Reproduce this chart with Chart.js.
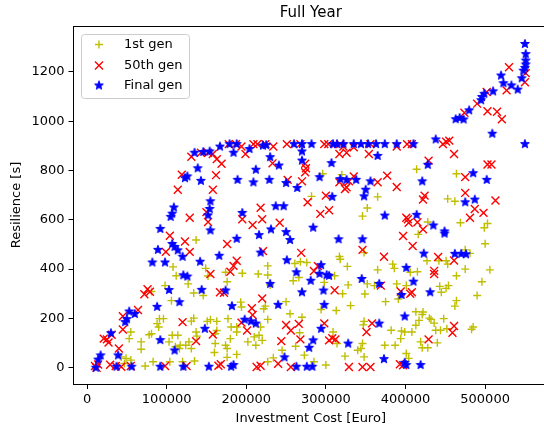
<!DOCTYPE html>
<html>
<head>
<meta charset="utf-8">
<script src="https://cdn.jsdelivr.net/npm/chart.js@4/dist/chart.umd.min.js"></script>
<style>
  html, body { margin: 0; padding: 0; background: #fff; overflow: hidden; }
  #wrap { width: 544px; height: 433px; overflow: hidden; }
</style>
</head>
<body>
<div id="wrap"><canvas id="myChart" width="555" height="433"></canvas></div>
<script>
// points are [investment cost in thousand euro, resilience in s]
const firstGenPoints = [
  [73,7],[83,24],[104,24],[120,24],[135,27],[176,42],[188,54],[227,24],[234,40],[245,71],
  [262,87],[273,51],[285,24],[300,11],[324,47],[340,71],[344,78],[348,44],[374,91],[387,91],
  [401,58],[404,38],[419,105],[421,81],[428,81],[440,101],[422,226],[417,192],[430,201],[436,181],
  [438,152],[444,152],[448,199],[452,158],[399,145],[394,118],[382,152],[408,145],[413,172],[443,330],
  [451,322],[454,333],[445,306],[451,434],[442,434],[453,420],[427,434],[415,389],[406,387],[401,333],
  [391,279],[386,403],[384,420],[389,340],[375,268],[365,397],[361,333],[365,693],[352,340],[349,299],
  [352,648],[346,615],[348,467],[348,188],[347,174],[346,98],[331,252],[328,336],[327,411],[318,440],
  [317,451],[313,232],[311,373],[296,787],[282,695],[320,783],[276,427],[268,430],[261,423],[266,366],
  [259,353],[250,268],[255,219],[267,142],[270,205],[294,236],[298,346],[309,145],[314,98],[227,413],
  [227,376],[215,380],[230,336],[222,239],[227,196],[218,165],[216,132],[210,125],[212,91],[202,105],
  [220,111],[195,383],[193,266],[194,246],[188,165],[188,145],[180,118],[181,165],[177,199],[174,387],
  [176,349],[174,91],[176,78],[163,188],[151,188],[155,195],[161,138],[161,98],[160,62],[149,403],
  [146,293],[137,518],[134,303],[134,201],[137,145],[131,78],[128,105],[124,91],[127,340],[117,91],
  [114,132],[116,78],[107,132],[111,85],[103,105],[106,272],[108,409],[112,373],[98,333],[91,199],
  [96,199],[88,179],[81,138],[78,134],[68,105],[68,75],[55,145],[53,118],[81,309],[43,44],
  [49,38],[55,31],[47,17],[414,805],[416,541],[428,591],[469,588],[462,675],[453,685],[464,787],
  [475,478],[481,464],[475,400],[490,293],[485,165],[483,156],[462,250],[464,272],[464,373],[503,585],
  [499,568],[506,397],[500,503],[496,349],[152,372],[90,165],[131,189],[138,128],[163,151],[224,250],
  [321,300],[413,227],[421,216],[432,196],[395,149]
];
const fiftiethGenPoints = [
  [10,7],[14,13],[12,0],[29,12],[21,118],[25,115],[27,102],[31,134],[36,7],[43,4],
  [40,78],[45,155],[45,209],[55,7],[64,234],[72,298],[76,318],[79,308],[98,7],[125,7],
  [120,185],[137,108],[158,135],[165,8],[168,14],[176,502],[155,380],[172,304],[104,535],[99,470],
  [123,512],[129,470],[129,608],[150,631],[152,591],[114,722],[119,783],[131,856],[143,872],[152,872],
  [158,867],[163,846],[169,827],[162,781],[158,722],[178,907],[187,907],[194,897],[199,867],[209,907],
  [214,907],[224,907],[234,897],[233,829],[251,907],[268,907],[274,827],[275,809],[274,793],[298,907],
  [303,907],[318,907],[322,897],[335,894],[326,872],[317,867],[356,907],[389,897],[402,907],[408,907],
  [354,867],[429,840],[447,907],[451,917],[455,921],[461,867],[474,1034],[490,1071],[502,1118],[503,1040],
  [515,1038],[521,1008],[527,1125],[530,1219],[550,1158],[551,1195],[503,824],[508,824],[513,678],[475,773],
  [475,709],[481,608],[487,644],[498,628],[461,435],[461,169],[459,142],[389,733],[377,779],[365,752],
  [326,732],[324,725],[317,752],[329,756],[335,776],[300,698],[277,671],[293,624],[304,639],[270,756],
  [252,762],[269,466],[242,588],[218,649],[195,602],[208,579],[220,602],[188,434],[184,413],[180,389],
  [221,473],[220,281],[207,241],[208,214],[194,183],[201,151],[167,306],[250,173],[256,151],[266,178],
  [298,180],[244,108],[268,115],[304,111],[312,115],[240,16],[256,3],[213,3],[218,8],[329,3],
  [346,3],[356,3],[351,145],[358,180],[346,478],[373,450],[369,333],[394,309],[408,306],[393,14],
  [397,534],[401,608],[404,588],[409,494],[415,590],[422,561],[422,682],[424,698],[441,449],[436,393],
  [436,380],[429,115],[290,412],[285,392],[311,314],[308,120],[403,602],[406,300],[397,10]
];
const finalGenPoints = [
  [11,0],[14,33],[17,50],[37,4],[39,50],[56,4],[92,4],[121,4],[153,4],[181,4],
  [30,140],[48,185],[50,197],[53,228],[60,218],[88,247],[92,112],[110,70],[103,315],[116,266],
  [82,427],[98,427],[89,478],[110,490],[114,476],[120,450],[107,502],[121,375],[126,370],[142,430],
  [166,454],[144,316],[148,158],[174,313],[182,250],[92,563],[105,612],[107,625],[109,650],[155,557],
  [152,618],[154,644],[155,675],[135,872],[146,875],[154,877],[167,897],[179,907],[188,907],[184,872],
  [139,809],[123,769],[126,776],[143,758],[189,762],[204,887],[221,901],[225,903],[230,854],[241,820],
  [260,907],[270,907],[270,877],[270,840],[282,907],[309,907],[314,907],[322,907],[335,907],[344,907],
  [353,907],[363,907],[374,907],[389,907],[410,907],[365,859],[307,830],[209,752],[212,803],[229,762],
  [250,749],[264,729],[292,773],[308,693],[318,765],[326,762],[338,762],[348,695],[350,722],[356,756],
  [374,617],[316,521],[346,521],[421,756],[428,823],[438,926],[485,789],[487,682],[475,671],[502,762],
  [435,577],[449,553],[449,544],[423,463],[414,620],[462,462],[470,462],[476,460],[463,1008],[468,1013],
  [473,1007],[480,1044],[495,1085],[496,1098],[499,1111],[510,1121],[520,1185],[523,1154],[533,1145],[541,1128],
  [546,1174],[548,1205],[550,1313],[551,1272],[551,1246],[551,1230],[550,1216],[509,949],[550,907],[188,523],
  [195,628],[206,188],[212,179],[218,467],[230,340],[231,561],[237,655],[247,655],[250,550],[251,436],
  [255,518],[240,255],[263,387],[270,306],[281,353],[284,568],[294,416],[297,313],[298,255],[294,158],
  [301,376],[304,373],[292,381],[284,111],[279,81],[345,360],[367,340],[367,179],[373,35],[328,98],
  [395,295],[401,405],[399,208],[410,349],[431,306],[399,20],[401,11],[419,11],[248,42],[263,4],
  [276,4],[283,4],[198,195],[184,11],[216,538]
];
const xTicks = [0, 100000, 200000, 300000, 400000, 500000];
const yTicks = [0, 200, 400, 600, 800, 1000, 1200];

const FONT = 'DejaVu Sans';
Chart.defaults.font.family = FONT;
Chart.defaults.color = '#000';

function toXY(points) {
  return points.map(p => ({ x: p[0] * 1000, y: p[1] }));
}

// filled five point star like matplotlib '*'
function makeStar(r, color) {
  const c = document.createElement('canvas');
  const s = Math.ceil(r * 2 + 2);
  c.width = s; c.height = s;
  const g = c.getContext('2d');
  g.beginPath();
  for (let i = 0; i < 10; i++) {
    const rr = i % 2 ? r * 0.42 : r;
    const a = -Math.PI / 2 + i * Math.PI / 5;
    g.lineTo(s / 2 + rr * Math.cos(a), s / 2 + rr * Math.sin(a));
  }
  g.closePath();
  g.fillStyle = color; g.fill();
  g.strokeStyle = color; g.lineWidth = 1; g.stroke();
  return c;
}
const starImg = makeStar(4.6, '#0000ff');

const YELLOW = '#bfbf00', RED = '#ff0000', BLUE = '#0000ff';

const framePlugin = {
  id: 'frame',
  afterDraw(chart) {
    const { ctx, chartArea: a } = chart;
    ctx.save();
    // top and right spines
    ctx.strokeStyle = '#000';
    ctx.lineWidth = 1;
    ctx.beginPath();
    ctx.moveTo(a.left, a.top + 0.5); ctx.lineTo(a.right, a.top + 0.5);
    ctx.moveTo(a.right - 0.5, a.top); ctx.lineTo(a.right - 0.5, a.bottom);
    ctx.stroke();

    // title
    ctx.fillStyle = '#000';
    ctx.font = '15px ' + FONT;
    ctx.textAlign = 'center';
    ctx.textBaseline = 'middle';
    ctx.fillText('Full Year', (a.left + a.right) / 2, 13);

    // legend box
    const bx = 81.5, by = 34.5, bw = 108, bh = 64, r = 3;
    ctx.beginPath();
    ctx.moveTo(bx + r, by);
    ctx.arcTo(bx + bw, by, bx + bw, by + bh, r);
    ctx.arcTo(bx + bw, by + bh, bx, by + bh, r);
    ctx.arcTo(bx, by + bh, bx, by, r);
    ctx.arcTo(bx, by, bx + bw, by, r);
    ctx.closePath();
    ctx.fillStyle = 'rgba(255,255,255,0.8)';
    ctx.fill();
    ctx.strokeStyle = '#cccccc';
    ctx.stroke();

    const mx = 99;
    const rows = [44.5, 65.5, 85.5];
    ctx.lineWidth = 1.4;
    ctx.strokeStyle = YELLOW;
    ctx.beginPath();
    ctx.moveTo(mx - 4, rows[0]); ctx.lineTo(mx + 4, rows[0]);
    ctx.moveTo(mx, rows[0] - 4); ctx.lineTo(mx, rows[0] + 4);
    ctx.stroke();
    ctx.strokeStyle = RED;
    ctx.beginPath();
    ctx.moveTo(mx - 4, rows[1] - 4); ctx.lineTo(mx + 4, rows[1] + 4);
    ctx.moveTo(mx - 4, rows[1] + 4); ctx.lineTo(mx + 4, rows[1] - 4);
    ctx.stroke();
    ctx.drawImage(starImg, mx - starImg.width / 2, rows[2] - starImg.height / 2);

    ctx.fillStyle = '#000';
    ctx.font = '13px ' + FONT;
    ctx.textAlign = 'left';
    ctx.fillText('1st gen', 124, rows[0]);
    ctx.fillText('50th gen', 124, rows[1]);
    ctx.fillText('Final gen', 124, rows[2]);
    ctx.restore();
  }
};

const axisGrid = {
  display: true,
  drawOnChartArea: false,
  drawTicks: true,
  tickLength: 5,
  tickColor: '#000',
  tickWidth: 1
};

new Chart(document.getElementById('myChart'), {
  type: 'scatter',
  data: {
    datasets: [
      {
        label: '1st gen',
        data: toXY(firstGenPoints),
        pointStyle: 'cross',
        pointRadius: 4,
        borderWidth: 1.4,
        borderColor: YELLOW,
        backgroundColor: YELLOW,
        order: 3
      },
      {
        label: '50th gen',
        data: toXY(fiftiethGenPoints),
        pointStyle: 'crossRot',
        pointRadius: 5.6,
        borderWidth: 1.4,
        borderColor: RED,
        backgroundColor: RED,
        order: 2
      },
      {
        label: 'Final gen',
        data: toXY(finalGenPoints),
        pointStyle: starImg,
        pointRadius: 5,
        borderColor: BLUE,
        backgroundColor: BLUE,
        order: 1
      }
    ]
  },
  options: {
    responsive: false,
    animation: false,
    events: [],
    layout: { padding: { top: 26, left: 0, right: 0, bottom: 0 } },
    plugins: {
      legend: { display: false },
      title: { display: false },
      tooltip: { enabled: false }
    },
    scales: {
      x: {
        type: 'linear',
        min: -17000,
        max: 579000,
        afterBuildTicks: s => { s.ticks = xTicks.map(v => ({ value: v })); },
        afterFit: s => { s.height = 49; },
        ticks: {
          callback: v => String(v),
          font: { size: 13 },
          color: '#000',
          padding: 3,
          maxRotation: 0,
          autoSkip: false
        },
        grid: axisGrid,
        border: { display: true, color: '#000', width: 1 },
        title: {
          display: true,
          text: 'Investment Cost [Euro]',
          font: { size: 13 },
          color: '#000',
          padding: { top: 0, bottom: 7 }
        }
      },
      y: {
        type: 'linear',
        min: -66,
        max: 1386,
        afterBuildTicks: s => { s.ticks = yTicks.map(v => ({ value: v })); },
        afterFit: s => { s.width = 73.5; },
        ticks: {
          callback: v => String(v),
          font: { size: 13 },
          color: '#000',
          padding: 4,
          autoSkip: false
        },
        grid: axisGrid,
        border: { display: true, color: '#000', width: 1 },
        title: {
          display: true,
          text: 'Resilience [s]',
          font: { size: 13 },
          color: '#000',
          padding: { top: 9, bottom: 0 }
        }
      }
    }
  },
  plugins: [framePlugin]
});
</script>
</body>
</html>
